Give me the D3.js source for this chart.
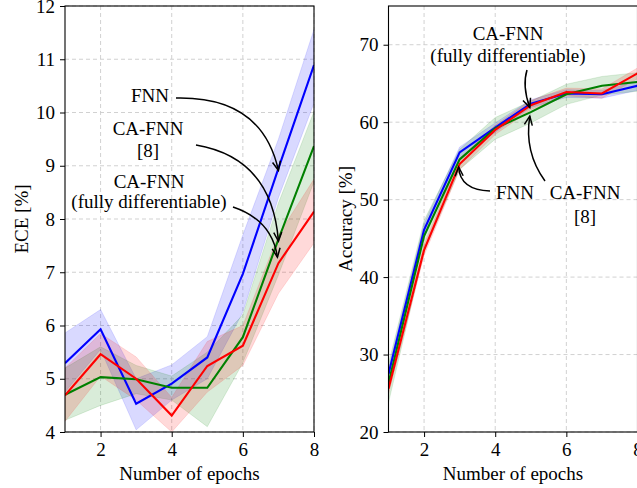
<!DOCTYPE html>
<html><head><meta charset="utf-8">
<script src="https://cdn.jsdelivr.net/npm/d3@7"></script>
<style>body{margin:0;background:#fff}svg{display:block}</style>
</head><body>
<svg id="c" width="637" height="488"></svg>
<script>
const epochs = [1,2,3,4,5,6,7,8];
// ECE [%]
const eceFNN      = [5.29, 5.93, 4.53, 4.91, 5.40, 6.97, 8.95, 10.89];
const eceFNNLo    = [4.75, 5.55, 4.04, 4.60, 5.00, 6.25, 8.40, 10.18];
const eceFNNHi    = [5.86, 6.30, 5.00, 5.26, 5.79, 7.70, 9.50, 11.56];
const eceCA       = [4.70, 5.03, 4.99, 4.83, 4.83, 5.78, 7.62, 9.37];
const eceCALo     = [4.22, 4.50, 4.72, 4.60, 4.10, 5.30, 6.95, 8.70];
const eceCAHi     = [5.20, 5.60, 5.25, 5.05, 5.50, 6.20, 8.30, 10.02];
const eceFD       = [4.69, 5.46, 5.00, 4.31, 5.24, 5.62, 7.17, 8.14];
const eceFDLo     = [4.20, 5.05, 4.60, 4.00, 4.75, 5.25, 6.60, 7.55];
const eceFDHi     = [5.20, 5.85, 5.41, 4.65, 5.70, 6.00, 7.70, 8.75];
// Accuracy [%]
const accFNN      = [27.5, 46.1, 56.1, 59.3, 62.4, 63.7, 63.6, 64.7];
const accFNNLo    = [26.8, 45.3, 55.4, 58.7, 61.9, 63.2, 63.1, 64.1];
const accFNNHi    = [28.2, 46.9, 56.8, 59.9, 62.9, 64.2, 64.1, 65.3];
const accCA       = [26.3, 45.3, 55.2, 59.2, 61.3, 63.6, 64.7, 65.2];
const accCALo     = [23.8, 43.3, 53.9, 57.8, 59.9, 62.3, 63.5, 64.0];
const accCAHi     = [28.8, 47.3, 56.5, 60.6, 62.7, 64.9, 65.9, 66.4];
const accFD       = [25.6, 43.5, 54.6, 59.0, 62.2, 63.9, 63.7, 66.3];
const accFDLo     = [24.9, 42.8, 53.9, 58.4, 61.6, 63.4, 63.1, 65.6];
const accFDHi     = [26.3, 44.2, 55.3, 59.6, 62.8, 64.4, 64.3, 67.0];
const xTicks = [2,4,6,8];
const eceTicks = [4,5,6,7,8,9,10,11,12];
const accTicks = [20,30,40,50,60,70];

const FONT = "'Liberation Serif','DejaVu Serif',serif";
const FS = 19;
const svg = d3.select("#c");
const defs = svg.append("defs");
defs.append("marker").attr("id","ah").attr("viewBox","-10 -6 12 12")
  .attr("refX",0).attr("refY",0).attr("markerWidth",12).attr("markerHeight",12)
  .attr("markerUnits","userSpaceOnUse").attr("orient","auto")
  .append("path").attr("d","M-9,-4 L0,0 L-9,4").attr("fill","none")
  .attr("stroke","#000").attr("stroke-width",1.5);

const colors = {fnn:"#0000ff", ca:"#008000", fd:"#ff0000"};

function panel(opts){
  const {left, right, top, bottom, ydom, yticks, ylabel, ylabX, series, clipId} = opts;
  const x = d3.scaleLinear().domain([1,8]).range([left,right]);
  const y = d3.scaleLinear().domain(ydom).range([bottom,top]);
  const g = svg.append("g");
  defs.append("clipPath").attr("id",clipId).append("rect")
    .attr("x",left).attr("y",top).attr("width",right-left).attr("height",bottom-top);
  const grid = g.append("g").attr("stroke","#cccccc").attr("stroke-width",0.9).attr("stroke-dasharray","4,3");
  xTicks.forEach(t=>grid.append("line").attr("x1",x(t)).attr("x2",x(t)).attr("y1",top).attr("y2",bottom));
  yticks.forEach(t=>grid.append("line").attr("x1",left).attr("x2",right).attr("y1",y(t)).attr("y2",y(t)));
  const pg = g.append("g").attr("clip-path",`url(#${clipId})`);
  const area = d3.area().x((d,i)=>x(epochs[i])).y0(d=>y(d[0])).y1(d=>y(d[1]));
  const line = d3.line().x((d,i)=>x(epochs[i])).y(d=>y(d));
  series.forEach(s=>{
    pg.append("path").datum(s.lo.map((v,i)=>[v,s.hi[i]])).attr("d",area)
      .attr("fill",s.color).attr("fill-opacity",0.15).attr("stroke",s.color).attr("stroke-opacity",0.12);
  });
  series.forEach(s=>{
    pg.append("path").datum(s.mean).attr("d",line).attr("fill","none")
      .attr("stroke",s.color).attr("stroke-width",2.1);
  });
  const xa = g.append("g").attr("transform",`translate(0,${bottom})`)
    .call(d3.axisBottom(x).tickValues(xTicks).tickSize(5).tickPadding(6).tickFormat(d3.format("d")));
  const ya = g.append("g").attr("transform",`translate(${left},0)`)
    .call(d3.axisLeft(y).tickValues(yticks).tickSize(5).tickPadding(5).tickFormat(d3.format("d")));
  [xa,ya].forEach(a=>{
    a.select(".domain").remove();
    a.selectAll("text").attr("font-family",FONT).attr("font-size",FS).attr("fill","#000");
    a.selectAll("line").attr("stroke","#000").attr("stroke-width",1);
  });
  g.append("rect").attr("x",left).attr("y",top).attr("width",right-left).attr("height",bottom-top)
    .attr("fill","none").attr("stroke","#000").attr("stroke-width",1.1);
  g.append("text").attr("x",(left+right)/2).attr("y",480).attr("text-anchor","middle")
    .attr("font-family",FONT).attr("font-size",FS).text("Number of epochs");
  g.append("text").attr("transform",`translate(${ylabX},${(top+bottom)/2}) rotate(-90)`)
    .attr("text-anchor","middle").attr("font-family",FONT).attr("font-size",FS).text(ylabel);
  return {x,y,g};
}

const L = panel({left:65,right:314,top:6,bottom:432,ydom:[4,12],yticks:eceTicks,ylabel:"ECE [%]",ylabX:28,clipId:"c1",
  series:[{mean:eceFNN,lo:eceFNNLo,hi:eceFNNHi,color:colors.fnn},
          {mean:eceCA,lo:eceCALo,hi:eceCAHi,color:colors.ca},
          {mean:eceFD,lo:eceFDLo,hi:eceFDHi,color:colors.fd}]});
const R = panel({left:388.5,right:637.5,top:6,bottom:432,ydom:[20,75],yticks:accTicks,ylabel:"Accuracy [%]",ylabX:352,clipId:"c2",
  series:[{mean:accFNN,lo:accFNNLo,hi:accFNNHi,color:colors.fnn},
          {mean:accCA,lo:accCALo,hi:accCAHi,color:colors.ca},
          {mean:accFD,lo:accFDLo,hi:accFDHi,color:colors.fd}]});

function label(lines, cx, y0, dy){
  lines.forEach((t,i)=>svg.append("text").attr("x",cx).attr("y",y0+i*dy).attr("text-anchor","middle")
    .attr("font-family",FONT).attr("font-size",FS).text(t));
}
function arrow(x0,y0,cx,cy,x1,y1){
  svg.append("path").attr("d",`M${x0},${y0} Q${cx},${cy} ${x1},${y1}`).attr("fill","none")
    .attr("stroke","#000").attr("stroke-width",1.5).attr("marker-end","url(#ah)");
}
label(["FNN"],150,102,0);
label(["CA-FNN","[8]"],148,135,21.5);
label(["CA-FNN","(fully differentiable)"],149,188,20);
const lx7 = L.x(7);
arrow(176,98, 262,96, lx7, L.y(eceFNN[6])+2);
arrow(196,145, 272,158, lx7, L.y(eceCA[6])+2);
arrow(233,207, 272,220, lx7-1, L.y(eceFD[6])-6);
label(["CA-FNN","(fully differentiable)"],508,40,21.5);
label(["FNN"],515,199,0);
label(["CA-FNN","[8]"],585,199,23.5);
const rx5 = R.x(5);
arrow(527,70, 522,86, rx5-1, R.y(accFNN[4])+4);
arrow(545,181, 524,152, rx5-1, R.y(accCA[4])+4);
arrow(490,191, 460,190, R.x(3)-1, R.y(accFD[2])+3);
</script>
</body></html>
